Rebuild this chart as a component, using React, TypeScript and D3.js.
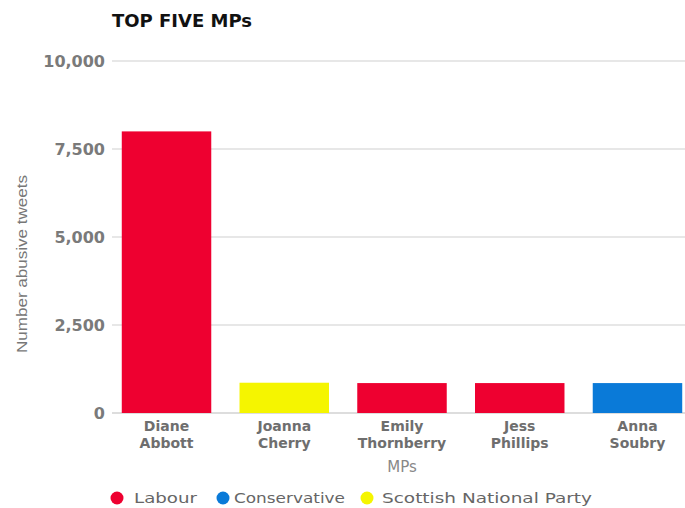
import React from "react";
import * as d3 from "d3";

const categories = ["Diane Abbott", "Joanna Cherry", "Emily Thornberry", "Jess Phillips", "Anna Soubry"];
const labelLines = [["Diane", "Abbott"], ["Joanna", "Cherry"], ["Emily", "Thornberry"], ["Jess", "Phillips"], ["Anna", "Soubry"]];
const values = [8000, 860, 850, 850, 850];
const parties = ["Labour", "SNP", "Labour", "Labour", "Conservative"];
const yTicks = [0, 2500, 5000, 7500, 10000];
const legendNames = ["Labour", "Conservative", "Scottish National Party"];
const legendKeys = ["Labour", "Conservative", "SNP"];

const partyColor: Record<string, string> = {
  Labour: "#ee0030",
  Conservative: "#0a7ad8",
  SNP: "#f5f500",
};

export default function App() {
  const W = 685, H = 508;
  const y = d3.scaleLinear().domain([0, 10000]).range([413, 61]);
  const x = d3.scaleBand<string>().domain(categories).range([110, 694]).paddingInner(0.24).paddingOuter(0.1);
  const fmt = d3.format(",");
  const font = "'DejaVu Sans', sans-serif";
  const legendCx = [117, 223, 367];
  const legendTx = [134, 234, 382];
  const legendLen = [63, 111, 210];
  return (
    <svg width={W} height={H} style={{ position: "absolute", left: 0, top: 0, background: "#fff" }}>
      <text x={112} y={27} fontFamily={font} fontWeight="bold" fontSize={17} fill="#111" textLength={140} lengthAdjust="spacingAndGlyphs">TOP FIVE MPs</text>
      {yTicks.map((t) => (
        <g key={t}>
          <line x1={112} x2={685} y1={y(t)} y2={y(t)} stroke={t === 0 ? "#bbb" : "#cfcfcf"} strokeWidth={1} />
          <text x={105} y={y(t) + 6} textAnchor="end" fontFamily={font} fontWeight="bold" fontSize={16} fill="#7a7a7a">{fmt(t)}</text>
        </g>
      ))}
      <text transform="translate(27,264) rotate(-90)" textAnchor="middle" fontFamily="'Liberation Sans Narrow', 'Liberation Sans', sans-serif" fontSize={15} fill="#777" textLength={178} lengthAdjust="spacingAndGlyphs">Number abusive tweets</text>
      {categories.map((c, i) => (
        <rect key={c} x={x(c)} y={y(values[i])} width={x.bandwidth()} height={y(0) - y(values[i])} fill={partyColor[parties[i]]} />
      ))}
      {categories.map((c, i) => (
        <text key={c + "l"} textAnchor="middle" fontFamily={font} fontWeight="bold" fontSize={14} fill="#6e6e6e">
          {labelLines[i].map((l, j) => (
            <tspan key={j} x={(x(c) as number) + x.bandwidth() / 2} y={431 + j * 17}>{l}</tspan>
          ))}
        </text>
      ))}
      <text x={402} y={472} textAnchor="middle" fontFamily={font} fontSize={15} fill="#888">MPs</text>
      {legendNames.map((n, i) => (
        <g key={n}>
          <circle cx={legendCx[i]} cy={498} r={6.5} fill={partyColor[legendKeys[i]]} />
          <text x={legendTx[i]} y={503} fontFamily={font} fontSize={14} fill="#666" textLength={legendLen[i]} lengthAdjust="spacingAndGlyphs">{n}</text>
        </g>
      ))}
    </svg>
  );
}
